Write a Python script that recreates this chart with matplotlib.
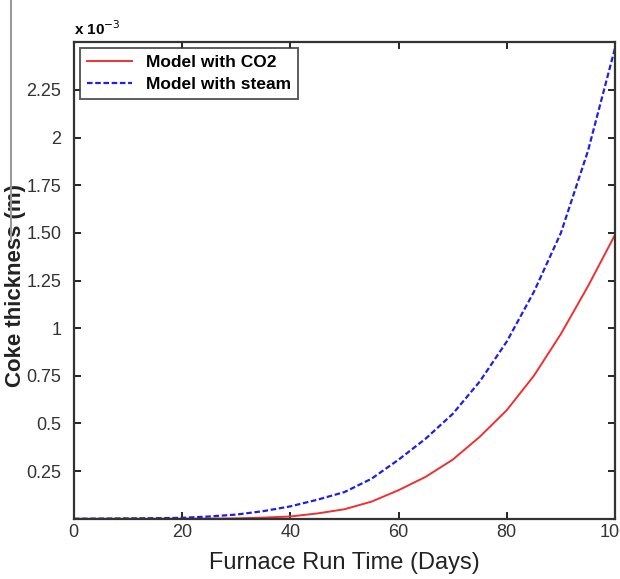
import matplotlib.pyplot as plt
from matplotlib.lines import Line2D

days = [0, 5, 10, 15, 20, 25, 30, 35, 40, 45, 50, 55, 60, 65, 70, 75, 80, 85, 90, 95, 100]
co2 = [0, 0, 0, 0, 0.0005, 0.001, 0.002, 0.006, 0.012, 0.028, 0.05, 0.09, 0.15, 0.22, 0.31, 0.43, 0.57, 0.75, 0.97, 1.22, 1.49]
steam = [0, 0.001, 0.002, 0.003, 0.005, 0.012, 0.022, 0.04, 0.065, 0.1, 0.14, 0.21, 0.31, 0.42, 0.55, 0.72, 0.93, 1.19, 1.5, 1.93, 2.47]
yticks = [0.25, 0.5, 0.75, 1, 1.25, 1.5, 1.75, 2, 2.25]
ytick_labels = ['0.25', '0.5', '0.75', '1', '1.25', '1.50', '1.75', '2', '2.25']

plt.rcParams['font.family'] = 'Liberation Sans'

fig = plt.figure(figsize=(6.2, 5.79), dpi=100)
ax = fig.add_axes([0.119, 0.104, 0.873, 0.823])

ax.plot(days, [v * 1e-3 for v in co2], color='#f03030', lw=1.4, label='Model with CO2')
ax.plot(days, [v * 1e-3 for v in steam], color='#2020e0', lw=1.6, ls='--', dashes=(2.5, 1.2), label='Model with steam')

ax.set_xlim(0, 100)
ax.set_ylim(0, 2.5e-3)
ax.set_xticks([0, 20, 40, 60, 80, 100])
ax.set_yticks([v * 1e-3 for v in yticks])
ax.set_yticklabels(ytick_labels)
ax.tick_params(direction='in', top=True, right=True, labelsize=13, length=5, width=1.2,
               labelcolor='#333333')
ax.tick_params(axis='y', pad=9)
for s in ax.spines.values():
    s.set_linewidth(1.6)
    s.set_color('#333333')

ax.set_xlabel('Furnace Run Time (Days)', fontsize=17, labelpad=8, color='#222222')
ax.set_ylabel('Coke thickness (m)', fontsize=16, fontweight='bold', color='#222222')
ax.yaxis.set_label_coords(-0.089, 0.49)
fig.text(0.12, 0.94, r'x 10$^{-3}$', fontsize=11, fontweight='bold')

leg = ax.legend(loc='upper left', prop={'weight': 'bold', 'size': 12.5}, fancybox=False,
                edgecolor='#333333', borderaxespad=0.35, handlelength=2.6, labelspacing=0.35)
leg.get_frame().set_linewidth(1.4)

fig.add_artist(Line2D([0.018, 0.018], [1.0, 0.585], color='#999999', lw=1.5))

fig.savefig('out.png', dpi=100)
